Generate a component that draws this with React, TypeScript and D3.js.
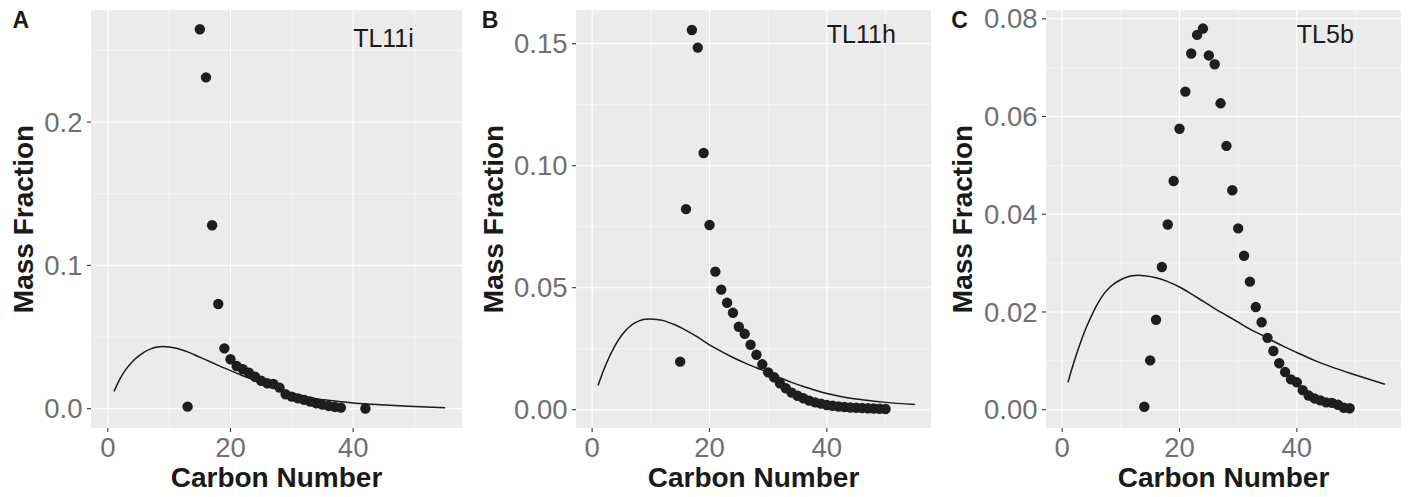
import React from "react";
import * as d3 from "d3";

const panelTags = ["A", "B", "C"];
const sampleNames = ["TL11i", "TL11h", "TL5b"];
const xTicks = [0, 20, 40];
const xMinor = [10, 30, 50];
const yTicksA = [0, 0.1, 0.2];
const yTicksB = [0, 0.05, 0.1, 0.15];
const yTicksC = [0, 0.02, 0.04, 0.06, 0.08];
const yLabelsA = ["0.0", "0.1", "0.2"];
const yLabelsB = ["0.00", "0.05", "0.10", "0.15"];
const yLabelsC = ["0.00", "0.02", "0.04", "0.06", "0.08"];
const yMinorA = [0.05, 0.15, 0.25];
const yMinorB = [0.025, 0.075, 0.125];
const yMinorC = [0.01, 0.03, 0.05, 0.07];

const carbonA = [13, 15, 16, 17, 18, 19, 20, 21, 22, 23, 24, 25, 26, 27, 28, 29, 30, 31, 32, 33, 34, 35, 36, 37, 38, 42];
const massA = [0.0014, 0.2648, 0.2312, 0.128, 0.073, 0.0421, 0.0345, 0.0298, 0.0275, 0.0251, 0.0223, 0.0195, 0.0177, 0.0172, 0.0147, 0.01, 0.0084, 0.0072, 0.0061, 0.0049, 0.0038, 0.0028, 0.0019, 0.0012, 0.0007, 0.0001];

const carbonB = [15, 16, 17, 18, 19, 20, 21, 22, 23, 24, 25, 26, 27, 28, 29, 30, 31, 32, 33, 34, 35, 36, 37, 38, 39, 40, 41, 42, 43, 44, 45, 46, 47, 48, 49, 50];
const massB = [0.0197, 0.0822, 0.1556, 0.1484, 0.1052, 0.0757, 0.0566, 0.0492, 0.0438, 0.0397, 0.034, 0.0311, 0.0266, 0.0225, 0.0186, 0.0153, 0.0133, 0.0108, 0.0088, 0.007, 0.0057, 0.0047, 0.0037, 0.003, 0.0025, 0.0019, 0.0016, 0.0013, 0.0011, 0.0009, 0.0008, 0.0007, 0.0006, 0.0005, 0.0004, 0.0003];

const carbonC = [14, 15, 16, 17, 18, 19, 20, 21, 22, 23, 24, 25, 26, 27, 28, 29, 30, 31, 32, 33, 34, 35, 36, 37, 38, 39, 40, 41, 42, 43, 44, 45, 46, 47, 48, 49];
const massC = [0.0006, 0.0101, 0.0184, 0.0292, 0.0379, 0.0468, 0.0575, 0.0651, 0.0729, 0.0767, 0.078, 0.0725, 0.0707, 0.0627, 0.054, 0.0449, 0.0371, 0.0315, 0.0262, 0.021, 0.0179, 0.0147, 0.012, 0.0095, 0.0077, 0.0062, 0.0056, 0.004, 0.0029, 0.0023, 0.0019, 0.0015, 0.0014, 0.001, 0.0004, 0.0003];

const fitCarbon = [1, 2, 3, 4, 5, 6, 7, 8, 9, 10, 11, 12, 13, 14, 16, 18, 20, 22, 24, 26, 28, 30, 32, 34, 36, 38, 40, 43, 46, 50, 55];
const fitA = [0.012, 0.021, 0.0278, 0.0328, 0.0366, 0.0396, 0.0417, 0.043, 0.0434, 0.0431, 0.0423, 0.0411, 0.0396, 0.0378, 0.034, 0.0302, 0.0265, 0.023, 0.0198, 0.0166, 0.0134, 0.0108, 0.0088, 0.007, 0.0058, 0.0048, 0.004, 0.0031, 0.0023, 0.0015, 0.0007];
const fitB = [0.0099, 0.0165, 0.022, 0.0267, 0.0304, 0.0332, 0.0352, 0.0364, 0.0371, 0.0372, 0.037, 0.0366, 0.0358, 0.0349, 0.0325, 0.0297, 0.0266, 0.0239, 0.0214, 0.0192, 0.0172, 0.0152, 0.0131, 0.0112, 0.0095, 0.008, 0.0066, 0.0051, 0.0041, 0.003, 0.0021];
const fitC = [0.0056, 0.0097, 0.0133, 0.0165, 0.0192, 0.0216, 0.0235, 0.0249, 0.0259, 0.0266, 0.0271, 0.0274, 0.0275, 0.0274, 0.027, 0.0262, 0.0251, 0.0237, 0.0222, 0.0207, 0.0193, 0.0179, 0.0165, 0.0153, 0.014, 0.0128, 0.0117, 0.0101, 0.0087, 0.0071, 0.0052];

const labelX = [40, 40, 40];
const labelY = [0.2526, 0.1504, 0.075];

const panels = [
  { carbon: carbonA, mass: massA, fit: fitA, yTicks: yTicksA, yLabels: yLabelsA, yMinor: yMinorA, yDomain: [-0.0135, 0.2782], plotLeft: 0, left: 91, right: 462 },
  { carbon: carbonB, mass: massB, fit: fitB, yTicks: yTicksB, yLabels: yLabelsB, yMinor: yMinorB, yDomain: [-0.0075, 0.1638], plotLeft: 469.33, left: 576, right: 931 },
  { carbon: carbonC, mass: massC, fit: fitC, yTicks: yTicksC, yLabels: yLabelsC, yMinor: yMinorC, yDomain: [-0.00375, 0.0818], plotLeft: 938.67, left: 1046, right: 1401 },
];

const TOP = 10;
const BOTTOM = 428;
const FONT = "'Liberation Sans', Arial, Helvetica, sans-serif";

function Panel({ p, i }: { p: any; i: number }) {
  const x = d3.scaleLinear().domain([-2.75, 57.75]).range([p.left, p.right]);
  const y = d3.scaleLinear().domain(p.yDomain).range([BOTTOM, TOP]);
  const line = d3
    .line<number>()
    .x((_, k) => x(fitCarbon[k]))
    .y((v) => y(v))
    .curve(d3.curveMonotoneX);
  const cx = (p.left + p.right) / 2;
  const cy = (TOP + BOTTOM) / 2;
  return (
    <g>
      <rect x={p.left} y={TOP} width={p.right - p.left} height={BOTTOM - TOP} fill="#EBEBEB" />
      {p.yMinor.map((v: number) => (
        <line key={"ym" + v} x1={p.left} x2={p.right} y1={y(v)} y2={y(v)} stroke="#fff" strokeWidth={0.55} />
      ))}
      {xMinor.map((v) => (
        <line key={"xm" + v} x1={x(v)} x2={x(v)} y1={TOP} y2={BOTTOM} stroke="#fff" strokeWidth={0.55} />
      ))}
      {p.yTicks.map((v: number) => (
        <line key={"yM" + v} x1={p.left} x2={p.right} y1={y(v)} y2={y(v)} stroke="#fff" strokeWidth={1.1} />
      ))}
      {xTicks.map((v) => (
        <line key={"xM" + v} x1={x(v)} x2={x(v)} y1={TOP} y2={BOTTOM} stroke="#fff" strokeWidth={1.1} />
      ))}
      <path d={line(p.fit) || ""} fill="none" stroke="#1a1a1a" strokeWidth={1.5} />
      {p.carbon.map((c: number, k: number) => (
        <circle key={"pt" + k} cx={x(c)} cy={y(p.mass[k])} r={5.2} fill="#1e1e1e" />
      ))}
      <text x={x(labelX[i])} y={y(labelY[i])} fontSize={25} fontFamily={FONT} fill="#1a1a1a">
        {sampleNames[i]}
      </text>
      {p.yTicks.map((v: number, k: number) => (
        <g key={"yt" + v}>
          <line x1={p.left - 4} x2={p.left} y1={y(v)} y2={y(v)} stroke="#333" strokeWidth={1.1} />
          <text x={p.left - 8.5} y={y(v)} dy="0.35em" textAnchor="end" fontSize={27.5} fontFamily={FONT} fill="#707070">
            {p.yLabels[k]}
          </text>
        </g>
      ))}
      {xTicks.map((v) => (
        <g key={"xt" + v}>
          <line x1={x(v)} x2={x(v)} y1={BOTTOM} y2={BOTTOM + 4} stroke="#333" strokeWidth={1.1} />
          <text x={x(v)} y={457} textAnchor="middle" fontSize={27.5} fontFamily={FONT} fill="#707070">
            {v}
          </text>
        </g>
      ))}
      <text x={cx} y={487} textAnchor="middle" fontSize={28} fontWeight="bold" fontFamily={FONT} fill="#1a1a1a">
        Carbon Number
      </text>
      <text
        transform={`translate(${p.plotLeft + 33.3},${cy}) rotate(-90)`}
        textAnchor="middle"
        fontSize={28}
        fontWeight="bold"
        fontFamily={FONT}
        fill="#1a1a1a"
      >
        Mass Fraction
      </text>
      <text x={p.plotLeft + 12.5} y={28.3} fontSize={23} fontWeight="bold" fontFamily={FONT} fill="#1a1a1a">
        {panelTags[i]}
      </text>
    </g>
  );
}

export default function App() {
  return (
    <svg
      width={1408}
      height={497}
      style={{ position: "absolute", left: 0, top: 0, background: "#fff" }}
    >
      <rect x={0} y={0} width={1408} height={497} fill="#fff" />
      {panels.map((p, i) => (
        <Panel key={i} p={p} i={i} />
      ))}
    </svg>
  );
}
